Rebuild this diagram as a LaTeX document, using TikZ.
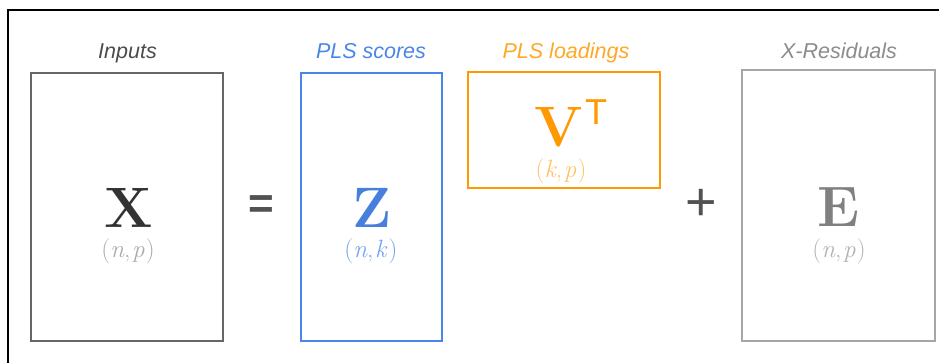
\documentclass[tikz,border=0pt]{standalone}
\usepackage{fontspec}
\newfontfamily\lsans{Liberation Sans}
\definecolor{cgray}{HTML}{666666}
\definecolor{cblue}{HTML}{4A86E8}
\definecolor{corange}{HTML}{FF9900}
\definecolor{clgray}{HTML}{A6A6A6}
\newcommand{\dm}[2]{(\textit{#1},\kern0.07em\textit{#2}\kern0.05em)}
\tikzset{
  mbox/.style={draw, line width=2pt, minimum width=#1},
  lbl/.style={font=\lsans\itshape\fontsize{21.5}{24}\selectfont, anchor=base, inner sep=0pt},
  bigl/.style={font=\fontsize{57}{60}\selectfont\bfseries, anchor=base, inner sep=0pt},
  dims/.style={font=\fontsize{25}{28}\selectfont, anchor=base, inner sep=0pt},
  oper/.style={font=\lsans\fontsize{54}{58}\selectfont, text=black!68, inner sep=0pt}
}
\begin{document}
\begin{tikzpicture}[x=1pt,y=-1pt]
\useasboundingbox (0,0) rectangle (939,362);
\fill[white] (0,0) rectangle (939,362);
\draw[line width=1.5pt, black] (8,370) -- (8,10) -- (945,10);
% boxes
\node[mbox=192pt, minimum height=268pt, color=cgray] (Xb) at (127,206.5) {};
\node[mbox=141pt, minimum height=268pt, color=cblue] (Zb) at (371.5,206.5) {};
\node[mbox=192pt, minimum height=116pt, color=corange] (Vb) at (563.5,130) {};
\node[mbox=193pt, minimum height=271pt, color=clgray] (Eb) at (838.5,205) {};
% labels
\node[lbl, text=black!70] (lX) at (127.5,58) {Inputs};
\node[lbl, text=cblue] (lZ) at (371,58) {PLS scores};
\node[lbl, text=corange!85!white] (lV) at (566,58) {PLS loadings};
\node[lbl, text=black!45] (lE) at (839,58) {X-Residuals};
% letters
\node[bigl, text=black!80] (X) at (129,227) {X};
\node[dims, text=black!33] (Xd) at (128,257) {\dm{n}{p}};
\node[bigl, text=cblue!95!black] (Z) at (372,227) {Z};
\node[dims, text=cblue!75!white] (Zd) at (371,257) {\dm{n}{k}};
\node[bigl, text=corange] (V) at (559,146) {V};
\node[font=\lsans\fontsize{36}{40}\selectfont, text=corange, anchor=base, inner sep=0pt] (T) at (596,124) {T};
\node[dims, text=corange!60!white] (Vd) at (561,177) {\dm{k}{p}};
\node[bigl, text=black!50] (E) at (839,226) {E};
\node[dims, text=black!30] (Ed) at (839,257) {\dm{n}{p}};
% operators
\node[oper, font=\lsans\bfseries\fontsize{44}{50}\selectfont] (eq) at (261.5,207) {=};
\node[oper] (pl) at (701,205) {+};
\end{tikzpicture}
\end{document}
